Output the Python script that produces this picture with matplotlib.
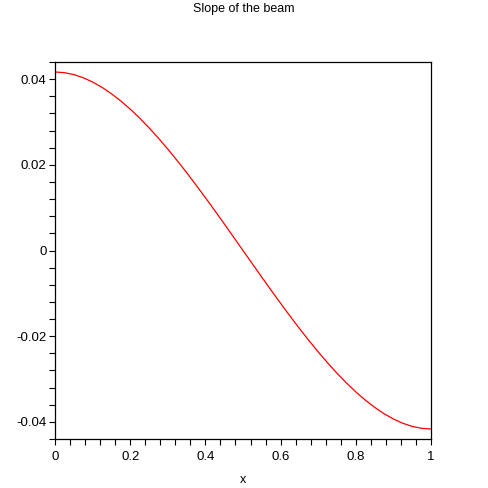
import matplotlib
matplotlib.use("Agg")
import matplotlib.pyplot as plt
from matplotlib.ticker import MultipleLocator

title = "Slope of the beam"
x_label = "x"
x_vals = [0.0, 0.025, 0.05, 0.075, 0.1, 0.125, 0.15, 0.175, 0.2, 0.225, 0.25,
          0.275, 0.3, 0.325, 0.35, 0.375, 0.4, 0.425, 0.45, 0.475, 0.5,
          0.525, 0.55, 0.575, 0.6, 0.625, 0.65, 0.675, 0.7, 0.725, 0.75,
          0.775, 0.8, 0.825, 0.85, 0.875, 0.9, 0.925, 0.95, 0.975, 1.0]
slope = [0.04167, 0.04151, 0.04106, 0.04033, 0.03933, 0.03809, 0.03660, 0.03490,
         0.03300, 0.03091, 0.02865, 0.02623, 0.02367, 0.02098, 0.01819, 0.01530,
         0.01233, 0.00931, 0.00623, 0.00312, 0.0,
         -0.00312, -0.00623, -0.00931, -0.01233, -0.01530, -0.01819, -0.02098,
         -0.02367, -0.02623, -0.02865, -0.03091, -0.03300, -0.03490, -0.03660,
         -0.03809, -0.03933, -0.04033, -0.04106, -0.04151, -0.04167]
x_ticks = [0, 0.2, 0.4, 0.6, 0.8, 1]
x_tick_labels = ["0", "0.2", "0.4", "0.6", "0.8", "1"]
y_ticks = [-0.04, -0.02, 0, 0.02, 0.04]
y_tick_labels = ["-0.04", "-0.02", "0", "0.02", "0.04"]

plt.rcParams['font.family'] = ['Liberation Sans', 'DejaVu Sans']
fig = plt.figure(figsize=(4.88, 4.88), dpi=100)
ax = fig.add_axes([55/488, 49/488, 376/488, 377/488])
ax.plot(x_vals, slope, color="#ff0000", lw=0.9)
ax.set_xlim(0, 1)
ax.set_ylim(-0.044, 0.044)
ax.set_xticks(x_ticks)
ax.set_xticklabels(x_tick_labels)
ax.set_yticks(y_ticks)
ax.set_yticklabels(y_tick_labels)
ax.xaxis.set_minor_locator(MultipleLocator(0.04))
ax.yaxis.set_minor_locator(MultipleLocator(0.004))
ax.tick_params(which="both", direction="out", length=4, width=0.8,
               labelsize=9.5, pad=2, top=False, right=False)
ax.tick_params(axis="x", pad=5)
for s in ax.spines.values():
    s.set_linewidth(0.9)
ax.set_xlabel(x_label, fontsize=9, labelpad=7.5)
fig.suptitle(title, fontsize=9, y=0.993, va="top")
fig.savefig("out.png", dpi=100)
